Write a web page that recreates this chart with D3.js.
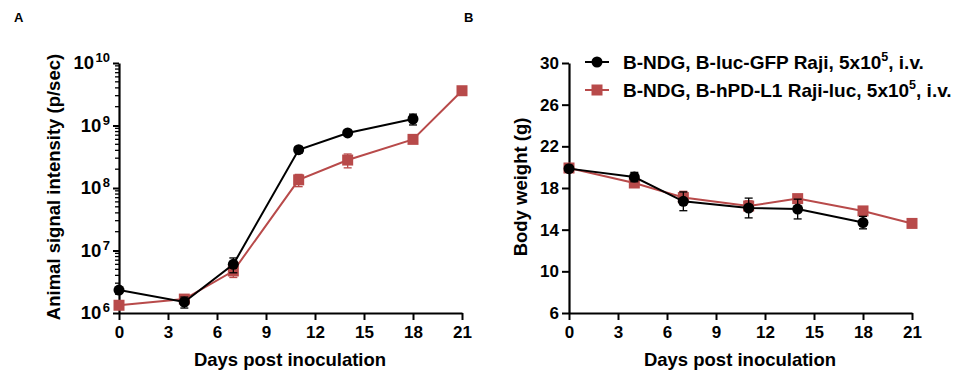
<!DOCTYPE html>
<html>
<head>
<meta charset="utf-8">
<script src="https://cdn.jsdelivr.net/npm/d3@7"></script>
<style>
  body { margin: 0; background: #fff; }
  text { font-family: "Liberation Sans", Arial, sans-serif; font-weight: bold; }
</style>
</head>
<body>
<div id="chart"></div>
<script>
// days of measurement
var daysA = [0, 4, 7, 11, 14, 18, 21];

// panel A: signal intensity (p/sec)
var sigGFP = [2.33e6, 1.5e6, 6.0e6, 4.1e8, 7.6e8, 1.27e9];
var sigGFPerr = [0.2e6, 0.3e6, 1.6e6, 0.5e8, 0.6e8, 0.25e9];
var sigPDL1 = [1.33e6, 1.67e6, 4.7e6, 1.35e8, 2.8e8, 6.0e8, 3.6e9];
var sigPDL1err = [0.1e6, 0.15e6, 1.0e6, 0.3e8, 0.7e8, 0.5e8, 0.3e9];

// panel B: body weight (g)
var bwGFP = [19.86, 19.05, 16.72, 16.08, 15.98, 14.68];
var bwGFPerr = [0.3, 0.45, 0.9, 0.95, 0.95, 0.6];
var bwPDL1 = [19.92, 18.48, 17.08, 16.27, 16.98, 15.8, 14.6];
var bwPDL1err = [0.3, 0.2, 0.6, 0.5, 0.3, 0.3, 0.3];

var xTicks = [0, 3, 6, 9, 12, 15, 18, 21];
var logTicks = [6, 7, 8, 9, 10];
var bwTicks = [6, 10, 14, 18, 22, 26, 30];
var legendLabels = ["B-NDG, B-luc-GFP Raji, 5x10", "B-NDG, B-hPD-L1 Raji-luc, 5x10"];

var black = "#000000", red = "#b84a4a";

var svg = d3.select("#chart").append("svg")
    .attr("width", 968)
    .attr("height", 378);

function series(vals, errs, color) {
    return vals.map(function (v, i) {
        return {x: daysA[i], y: v, e: errs[i], c: color};
    });
}

function drawSeries(g, x, y, data, shape, color) {
    var line = d3.line()
        .x(function (d) { return x(d.x); })
        .y(function (d) { return y(d.y); });

    // error bars
    var eb = g.append("g").attr("stroke", color).attr("stroke-width", 1.3);
    data.forEach(function (d) {
        var y0 = y(d.y - d.e), y1 = y(d.y + d.e), cx = x(d.x);
        eb.append("line").attr("x1", cx).attr("x2", cx).attr("y1", y0).attr("y2", y1);
        eb.append("line").attr("x1", cx - 4).attr("x2", cx + 4).attr("y1", y0).attr("y2", y0);
        eb.append("line").attr("x1", cx - 4).attr("x2", cx + 4).attr("y1", y1).attr("y2", y1);
    });

    g.append("path")
        .datum(data)
        .attr("fill", "none")
        .attr("stroke", color)
        .attr("stroke-width", 2)
        .attr("d", line);

    if (shape === "circle") {
        g.selectAll(null).data(data).enter().append("circle")
            .attr("cx", function (d) { return x(d.x); })
            .attr("cy", function (d) { return y(d.y); })
            .attr("r", 5.5)
            .attr("fill", color);
    } else {
        g.selectAll(null).data(data).enter().append("rect")
            .attr("x", function (d) { return x(d.x) - 5.5; })
            .attr("y", function (d) { return y(d.y) - 5.5; })
            .attr("width", 11)
            .attr("height", 11)
            .attr("fill", color);
    }
}

function xAxis(g, x, yPos) {
    var ax = g.append("g")
        .attr("transform", "translate(0," + yPos + ")")
        .call(d3.axisBottom(x).tickValues(xTicks).tickSize(7).tickPadding(6).tickSizeOuter(0));
    ax.select(".domain").attr("stroke-width", 2.2);
    ax.selectAll(".tick line").attr("stroke-width", 2);
    ax.selectAll(".tick text").attr("font-size", 17).attr("font-family", "Liberation Sans, Arial, sans-serif")
        .attr("font-weight", "bold").attr("fill", "#000");
}

// ---------------- Panel A ----------------
var xA = d3.scaleLinear().domain([0, 21]).range([119, 462]);
var yA = d3.scaleLog().domain([1e6, 1e10]).range([313, 63]);
var gA = svg.append("g");

// minor ticks of the log axis
var minor = [];
for (var p = 6; p < 10; p++) {
    for (var m = 2; m <= 9; m++) minor.push(m * Math.pow(10, p));
}
gA.append("g").selectAll("line").data(minor).enter().append("line")
    .attr("x1", 115).attr("x2", 119)
    .attr("y1", function (d) { return yA(d); })
    .attr("y2", function (d) { return yA(d); })
    .attr("stroke", "#000").attr("stroke-width", 1.3);

var yAxA = gA.append("g")
    .attr("transform", "translate(119,0)")
    .call(d3.axisLeft(yA).tickValues(logTicks.map(function (e) { return Math.pow(10, e); }))
        .tickSize(6).tickSizeOuter(0).tickFormat(""));
yAxA.select(".domain").attr("stroke-width", 2.2);
yAxA.selectAll(".tick line").attr("stroke-width", 2);

// log tick labels with superscripts
var lab = gA.selectAll(".loglab").data(logTicks).enter().append("text")
    .attr("class", "loglab")
    .attr("x", 110)
    .attr("y", function (d) { return yA(Math.pow(10, d)) + 6; })
    .attr("text-anchor", "end")
    .attr("font-size", 18.5);
lab.append("tspan").text("10");
lab.append("tspan").attr("dy", -7).attr("font-size", 13).attr("dx", 1.5)
    .text(function (d) { return d; });

xAxis(gA, xA, 313);

drawSeries(gA.append("g"), xA, yA, series(sigPDL1, sigPDL1err, red), "square", red);
drawSeries(gA.append("g"), xA, yA, series(sigGFP, sigGFPerr, black), "circle", black);

gA.append("text")
    .attr("transform", "translate(60,187) rotate(-90)")
    .attr("text-anchor", "middle")
    .attr("font-size", 18.5)
    .text("Animal signal intensity (p/sec)");

gA.append("text")
    .attr("x", 290).attr("y", 366)
    .attr("text-anchor", "middle")
    .attr("font-size", 18.5)
    .text("Days post inoculation");

svg.append("text").attr("x", 14).attr("y", 22).attr("font-size", 13).text("A");
svg.append("text").attr("x", 464).attr("y", 22).attr("font-size", 13).text("B");

// ---------------- Panel B ----------------
var xB = d3.scaleLinear().domain([0, 21]).range([569, 912]);
var yB = d3.scaleLinear().domain([6, 30]).range([313, 63]);
var gB = svg.append("g");

var yAxB = gB.append("g")
    .attr("transform", "translate(569,0)")
    .call(d3.axisLeft(yB).tickValues(bwTicks).tickSize(7).tickPadding(3).tickSizeOuter(0));
yAxB.select(".domain").attr("stroke-width", 2.2);
yAxB.selectAll(".tick line").attr("stroke-width", 2);
yAxB.selectAll(".tick text").attr("font-size", 17).attr("font-family", "Liberation Sans, Arial, sans-serif")
    .attr("font-weight", "bold").attr("fill", "#000");

xAxis(gB, xB, 313);

drawSeries(gB.append("g"), xB, yB, series(bwPDL1, bwPDL1err, red), "square", red);
drawSeries(gB.append("g"), xB, yB, series(bwGFP, bwGFPerr, black), "circle", black);

gB.append("text")
    .attr("transform", "translate(527,187) rotate(-90)")
    .attr("text-anchor", "middle")
    .attr("font-size", 18.5)
    .text("Body weight (g)");

gB.append("text")
    .attr("x", 740).attr("y", 366)
    .attr("text-anchor", "middle")
    .attr("font-size", 18.5)
    .text("Days post inoculation");

// legend
var legend = gB.selectAll(".legend").data(legendLabels).enter().append("g")
    .attr("class", "legend")
    .attr("transform", function (d, i) { return "translate(585," + (62 + i * 28) + ")"; });
legend.append("line")
    .attr("x1", 0).attr("x2", 24).attr("y1", 0).attr("y2", 0)
    .attr("stroke-width", 2)
    .attr("stroke", function (d, i) { return i === 0 ? black : red; });
legend.each(function (d, i) {
    var g = d3.select(this);
    if (i === 0) g.append("circle").attr("cx", 12).attr("cy", 0).attr("r", 5.5).attr("fill", black);
    else g.append("rect").attr("x", 6.5).attr("y", -5.5).attr("width", 11).attr("height", 11).attr("fill", red);
});
var lt = legend.append("text")
    .attr("x", 38).attr("y", 6.5)
    .attr("font-size", 19);
lt.append("tspan").text(function (d) { return d; });
lt.append("tspan").attr("dy", -8).attr("font-size", 12.5).text("5");
lt.append("tspan").attr("dy", 8).text(", i.v.");
</script>
</body>
</html>
